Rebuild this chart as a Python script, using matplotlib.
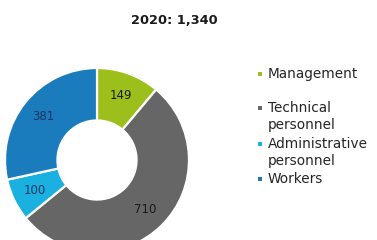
import matplotlib
matplotlib.use("Agg")
import matplotlib.pyplot as plt
import numpy as np

# data
categories = ["Management", "Technical personnel", "Administrative personnel", "Workers"]
legend_lines = [["Management"], ["Technical", "personnel"], ["Administrative", "personnel"], ["Workers"]]
values = [149, 710, 100, 381]
colors = ["#9dbf1b", "#666666", "#1ab0e0", "#1a7bbd"]
label_colors = ["#1a1a1a", "#1a1a1a", "#1b3560", "#1b3560"]
title = "2020: 1,340"

W, H = 377, 240
fig = plt.figure(figsize=(W / 100, H / 100), dpi=100)
fig.patch.set_facecolor("white")

# donut axes: centre (97, 160) px, radius 92 px
cx, cy, r = 97, 160, 92
ax = fig.add_axes([(cx - r) / W, (H - cy - r) / H, 2 * r / W, 2 * r / H])
wedges, _ = ax.pie(values, colors=colors, startangle=90, counterclock=False,
                   radius=1.0, wedgeprops=dict(width=0.57, edgecolor="white", linewidth=1.6))
for w, v, c in zip(wedges, values, label_colors):
    ang = np.deg2rad((w.theta1 + w.theta2) / 2)
    ax.text(0.75 * np.cos(ang), 0.75 * np.sin(ang), str(v), ha="center", va="center",
            fontsize=8.5, color=c)
ax.set_xlim(-1, 1)
ax.set_ylim(-1, 1)
ax.set_aspect("equal")
ax.axis("off")

fig.text(174 / W, 1 - 21 / H, title, ha="center", va="center", fontsize=9.3, fontweight="bold",
         color="#1a1a1a")

# legend drawn by hand (uneven spacing in the original)
leg = fig.add_axes([0, 0, 1, 1])
leg.set_xlim(0, W)
leg.set_ylim(H, 0)
leg.axis("off")
line_y = [[74], [108, 125.5], [143.5, 161.5], [179]]
for lines, ys, col in zip(legend_lines, line_y, colors):
    leg.scatter([260], [ys[0]], marker="s", s=5, color=col, linewidths=0)
    for txt, y in zip(lines, ys):
        leg.text(268, y, txt, ha="left", va="center", fontsize=9.8, color="#262626")

fig.savefig("out.png", dpi=100)
